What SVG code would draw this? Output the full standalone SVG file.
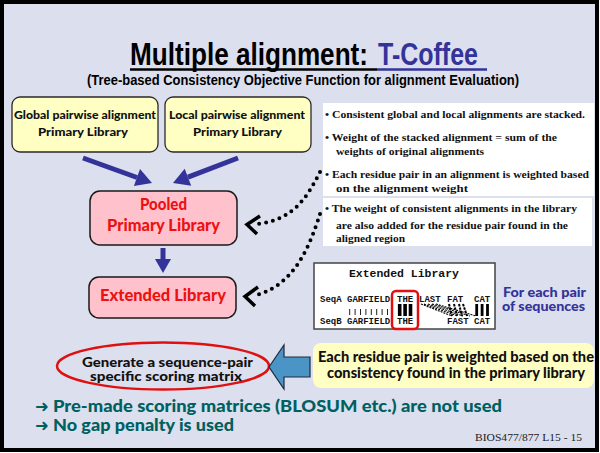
<svg xmlns="http://www.w3.org/2000/svg" width="600" height="453" viewBox="0 0 600 453">
  <defs>
    <style>
      .hand { font-family: Lato, "DejaVu Sans", sans-serif; font-weight: 900; }
      .serif { font-family: "Liberation Serif", "Times New Roman", serif; font-weight: bold; font-size: 11px; fill: #111; }
      .mono { font-family: "Liberation Mono", "Courier New", monospace; font-weight: bold; fill: #111; }
      .cond { font-family: "Liberation Sans", Arial, sans-serif; font-weight: bold; }
      .ybox { fill: #ffffc4; stroke: #2a2a2a; stroke-width: 1.3; }
      .pbox { fill: #ffc2cc; stroke: #1a1a1a; stroke-width: 1.5; }
      .red { fill: #ee1111; font-size: 16px; }
      .blk { fill: #111; }
      .flow { stroke: #333399; stroke-width: 5; fill: none; }
      .flowhead { fill: #333399; }
      .dots { stroke: #000; stroke-width: 4; stroke-dasharray: 0 7; stroke-linecap: round; fill: none; }
      .chev { stroke: #000; stroke-width: 3.5; fill: none; stroke-linejoin: miter; }
      .green { fill: #006060; font-size: 16.5px; }
    </style>
  </defs>

  <!-- slide frame -->
  <rect x="2" y="2" width="595" height="448" fill="#dcdfee" stroke="#000" stroke-width="4"/>

  <!-- title -->
  <g id="title">
    <text class="cond" x="130" y="65" font-size="31" textLength="238" lengthAdjust="spacingAndGlyphs" fill="#000">Multiple alignment:</text>
    <text class="cond" x="378" y="65" font-size="31" textLength="100" lengthAdjust="spacingAndGlyphs" fill="#333399">T-Coffee</text>
    <line x1="130" y1="69.5" x2="377" y2="69.5" stroke="#000" stroke-width="2.5"/>
    <line x1="377" y1="69.5" x2="487" y2="69.5" stroke="#333399" stroke-width="2.5"/>
    <text class="cond" x="87" y="85" font-size="14.5" textLength="432" lengthAdjust="spacingAndGlyphs" fill="#000">(Tree-based Consistency Objective Function for alignment Evaluation)</text>
  </g>

  <!-- input libraries -->
  <g id="global-lib">
    <rect class="ybox" x="12" y="97" width="146" height="55" rx="8"/>
    <text class="hand blk" x="14" y="119" font-size="11.5" textLength="142" lengthAdjust="spacingAndGlyphs">Global pairwise alignment</text>
    <text class="hand blk" x="38" y="136" font-size="11.5" textLength="90" lengthAdjust="spacingAndGlyphs">Primary Library</text>
  </g>
  <g id="local-lib">
    <rect class="ybox" x="165" y="97" width="146" height="55" rx="8"/>
    <text class="hand blk" x="169" y="119" font-size="11.5" textLength="136" lengthAdjust="spacingAndGlyphs">Local pairwise alignment</text>
    <text class="hand blk" x="193" y="136" font-size="11.5" textLength="89" lengthAdjust="spacingAndGlyphs">Primary Library</text>
  </g>

  <g id="pooled-lib">
    <rect class="pbox" x="90" y="191" width="147" height="54" rx="10"/>
    <text class="hand red" x="140" y="210" textLength="47" lengthAdjust="spacingAndGlyphs">Pooled</text>
    <text class="hand red" x="107" y="231" textLength="113" lengthAdjust="spacingAndGlyphs">Primary Library</text>
  </g>

  <g id="extended-lib">
    <rect class="pbox" x="89" y="277" width="147" height="41" rx="10"/>
    <text class="hand red" x="100" y="301" textLength="126" lengthAdjust="spacingAndGlyphs">Extended Library</text>
  </g>

  <!-- explanatory notes -->
  <g id="notes">
    <rect x="323" y="103" width="271" height="93" fill="#fff"/>
    <rect x="323" y="198" width="269" height="48" fill="#fff"/>
    <text class="serif" x="325" y="118" textLength="260" lengthAdjust="spacingAndGlyphs">• Consistent global and local alignments are stacked.</text>
    <text class="serif" x="325" y="141" textLength="232" lengthAdjust="spacingAndGlyphs">• Weight of the stacked alignment = sum of the</text>
    <text class="serif" x="336" y="155" textLength="148" lengthAdjust="spacingAndGlyphs">weights of original alignments</text>
    <text class="serif" x="325" y="178" textLength="264" lengthAdjust="spacingAndGlyphs">• Each residue pair in an alignment is weighted based</text>
    <text class="serif" x="336" y="192" textLength="132" lengthAdjust="spacingAndGlyphs">on the alignment weight</text>
    <text class="serif" x="325" y="212" textLength="252" lengthAdjust="spacingAndGlyphs">• The weight of consistent alignments in the library</text>
    <text class="serif" x="336" y="228.5" textLength="232" lengthAdjust="spacingAndGlyphs">are also added for the residue pair found in the</text>
    <text class="serif" x="336" y="242" textLength="69" lengthAdjust="spacingAndGlyphs">aligned region</text>
  </g>

  <!-- extended library example -->
  <g id="extended-example">
    <rect x="314" y="263" width="181" height="66" fill="#fff" stroke="#444" stroke-width="1.5"/>
    <text class="mono" x="404" y="277" font-size="11.5" text-anchor="middle" textLength="110" lengthAdjust="spacingAndGlyphs">Extended Library</text>
    <g font-size="9">
      <text class="mono" x="320" y="302">SeqA</text>
      <text class="mono" x="347" y="302">GARFIELD</text>
      <text class="mono" x="397" y="302">THE</text>
      <text class="mono" x="419" y="302">LAST</text>
      <text class="mono" x="447" y="302">FAT</text>
      <text class="mono" x="474" y="302">CAT</text>
      <text class="mono" x="320" y="324">SeqB</text>
      <text class="mono" x="347" y="324">GARFIELD</text>
      <text class="mono" x="397" y="324">THE</text>
      <text class="mono" x="447" y="324">FAST</text>
      <text class="mono" x="474" y="324">CAT</text>
    </g>
    <!-- GARFIELD matches -->
    <path d="M349.7 309v6M355.1 309v6M360.5 309v6M365.9 309v6M371.3 309v6M376.7 309v6M382.1 309v6M387.5 309v6" stroke="#222" stroke-width="1"/>
    <!-- THE: heavily weighted -->
    <path d="M399.7 304v12M405.1 304v12M410.5 304v12" stroke="#000" stroke-width="3.6"/>
    <rect x="392" y="291" width="26" height="38" rx="4" fill="none" stroke="#e01010" stroke-width="2.5"/>
    <!-- LAST/FAT -> FAST/CAT consistency links -->
    <g stroke="#000" stroke-width="1.1" stroke-dasharray="2 1">
      <path d="M421 304L452 316M424 304L458 316M428 304L463 316M432 304L470 316M436 304L476 316"/>
    </g>
    <g stroke="#000" stroke-width="2" stroke-dasharray="2.5 1">
      <path d="M449 304L452 316M454 304L457 316M459 304L462 316M463 304L467 316"/>
    </g>
    <path d="M476.7 304v12M482.1 304v12M487.5 304v12" stroke="#000" stroke-width="2.8"/>
    <text class="hand" x="503" y="297" font-size="13" fill="#333399" textLength="83" lengthAdjust="spacingAndGlyphs">For each pair</text>
    <text class="hand" x="502" y="311" font-size="13" fill="#333399" textLength="83" lengthAdjust="spacingAndGlyphs">of sequences</text>
  </g>

  <!-- scoring matrix result -->
  <g id="scoring-matrix">
    <ellipse cx="163" cy="366" rx="106" ry="23.5" fill="none" stroke="#e01010" stroke-width="2.5"/>
    <text class="hand blk" x="82" y="367" font-size="12.5" textLength="171" lengthAdjust="spacingAndGlyphs">Generate a sequence-pair</text>
    <text class="hand blk" x="90" y="381" font-size="12.5" textLength="152" lengthAdjust="spacingAndGlyphs">specific scoring matrix</text>
  </g>

  <g id="weighting-note">
    <rect x="313" y="343" width="281" height="45" rx="8" fill="#ffffc4"/>
    <text class="hand blk" x="318" y="362" font-size="14.5" textLength="276" lengthAdjust="spacingAndGlyphs">Each residue pair is weighted based on the</text>
    <text class="hand blk" x="327" y="378" font-size="14.5" textLength="258" lengthAdjust="spacingAndGlyphs">consistency found in the primary library</text>
  </g>

  <!-- connectors -->
  <g id="connectors">
    <line class="flow" x1="83" y1="158" x2="137" y2="177.5"/>
    <polygon class="flowhead" points="152,183 133.9,186 140,169.1"/>
    <line class="flow" x1="238" y1="158" x2="188" y2="177.2"/>
    <polygon class="flowhead" points="173,183 191.2,185.7 184.7,168.8"/>
    <line class="flow" x1="163" y1="248" x2="163" y2="261"/>
    <polygon class="flowhead" points="163,273 155,259 171,259"/>

    <path class="dots" d="M320 172C308 195 295 220 257 224"/>
    <path class="chev" d="M260 216L247 224.5L257 234"/>
    <path class="dots" d="M320 214C310 245 295 285 256 295"/>
    <path class="chev" d="M258 287L245 296.5L255 306"/>

    <polygon points="269,367 284,345 284,357 310,357 310,377 284,377 284,389" fill="#4b95c6" stroke="#1e2a3a" stroke-width="1.2"/>
  </g>

  <!-- remarks -->
  <g id="remarks">
    <text class="green" x="35" y="412" font-family="DejaVu Sans, sans-serif" font-weight="bold">➜</text>
    <text class="hand green" x="53" y="412" textLength="449" lengthAdjust="spacingAndGlyphs">Pre-made scoring matrices (BLOSUM etc.) are not used</text>
    <text class="green" x="35" y="431" font-family="DejaVu Sans, sans-serif" font-weight="bold">➜</text>
    <text class="hand green" x="53" y="431" textLength="181" lengthAdjust="spacingAndGlyphs">No gap penalty is used</text>
    <text x="475" y="441" font-family="Liberation Serif, Times New Roman, serif" font-size="11" fill="#222" textLength="107" lengthAdjust="spacingAndGlyphs">BIOS477/877 L15 - 15</text>
  </g>
</svg>
